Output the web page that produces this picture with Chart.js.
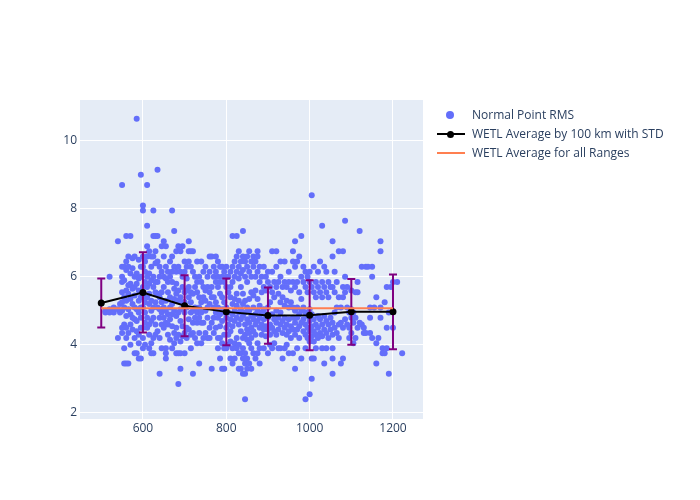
<!DOCTYPE html>
<html>
<head>
<meta charset="utf-8">
<script src="https://cdn.jsdelivr.net/npm/chart.js@4/dist/chart.umd.min.js"></script>
<style>
  html, body { margin:0; padding:0; background:#fff; }
  #wrap { position:relative; width:700px; height:500px; font-family:"Open Sans", Verdana, Arial, sans-serif; }
  canvas { position:absolute; left:0; top:0; }
  .lg { position:absolute; left:472px; font-size:12px; color:#2a3f5f; line-height:14px; white-space:nowrap; }
  .sym { position:absolute; }
</style>
</head>
<body>
<div id="wrap">
  <canvas id="c" width="700" height="500"></canvas>
  <div class="sym" style="left:446px;top:111px;width:8px;height:8px;border-radius:50%;background:#636efa;"></div>
  <div class="lg" style="top:108px;">Normal Point RMS</div>
  <div class="sym" style="left:437px;top:133px;width:28px;height:2px;background:#000;"></div>
  <div class="sym" style="left:447px;top:130.5px;width:7px;height:7px;border-radius:50%;background:#000;"></div>
  <div class="lg" style="top:127px;">WETL Average by 100 km with STD</div>
  <div class="sym" style="left:437px;top:152px;width:28px;height:2px;background:#ff7f50;"></div>
  <div class="lg" style="top:146px;">WETL Average for all Ranges</div>
</div>
<script>
// ---- data ----
const scatterRangeKm = [510,520,530,540,545,550,555,560,565,570,575,580,585,590,595,600,605,610,615,620,625,630,635,640,645,650,655,660,665,670,675,680,685,690,695,700,705,710,715,720,725,730,735,740,745,750,755,760,765,770,775,780,785,790,795,800,805,810,815,820,825,830,835,840,845,850,855,860,865,870,875,880,885,890,895,900,905,910,915,920,925,930,935,940,945,950,955,960,965,970,975,980,985,990,995,1000,1005,1010,1015,1020,1025,1030,1035,1040,1045,1050,1055,1060,1065,1070,1075,1080,1085,1090,1095,1100,1105,1110,1115,1120,1125,1130,1135,1140,1145,1150,1155,1160,1165,1170,1175,1180,1185,1190,1195,1200,1210,1222];
const scatterRmsMm = [
 [5.0,4.95],
 [6.0,5.05,4.95],
 [4.95,5.1],
 [4.2,7.05,5.05],
 [5.2,4.95],
 [6.3,6.0,5.85,5.55,5.25,5.0,4.5,4.35,8.7],
 [6.3,5.9,5.4,5.1,4.6,3.45,3.9],
 [7.2,6.45,6.2,5.6,5.3,4.85,4.5,4.2,3.45],
 [6.3,5.75,5.5,5.05,4.35,3.45,6.6],
 [7.2,6.1,5.8,5.35,4.9,4.6,4.0],
 [6.55,6.25,5.65,5.2,4.8,4.45],
 [6.6,6.0,5.7,5.45,5.1,4.75,4.2,3.75],
 [10.65,6.1,5.8,5.05,4.7,4.4,3.75],
 [6.5,5.95,5.6,5.3,4.95,4.3,4.05,3.6],
 [9.0,6.3,6.0,5.4,5.1,4.8,4.5,3.6],
 [8.1,7.95,6.6,6.3,5.7,5.4,5.1,4.5,4.2,3.9],
 [6.45,6.15,5.85,5.25,4.95,4.65,4.0],
 [8.7,7.5,6.9,6.6,6.0,5.7,5.4,4.8,4.5],
 [6.75,6.1,5.8,5.5,5.2,4.6,4.3,3.9],
 [6.6,6.3,5.9,5.3,5.0,4.7,4.05,3.75],
 [7.95,7.2,6.6,6.0,5.7,5.1,4.8,4.2,3.75],
 [7.2,6.75,6.4,5.85,5.55,5.25,4.6,4.3],
 [9.15,7.2,6.45,5.85,5.5,5.1,4.4],
 [6.3,6.0,5.4,5.05,4.8,4.2,3.15],
 [6.9,6.15,5.55,5.25,4.95,4.6,3.9],
 [7.05,6.6,6.0,5.7,5.1,4.8,4.5],
 [6.9,6.3,5.95,5.3,5.0,4.65,3.9,3.75,3.6],
 [6.15,5.85,5.55,4.9,4.6,4.3],
 [6.45,6.0,5.4,5.1,4.75,4.15],
 [7.95,6.6,6.15,5.85,5.2,4.9,4.55,3.9],
 [7.35,6.3,5.65,5.35,5.0,4.35,4.05],
 [6.75,6.15,5.8,5.5,4.85,4.5,4.2,3.75],
 [6.9,6.3,5.6,5.3,4.95,4.3,2.85,3.75],
 [6.75,6.15,5.4,5.05,4.7,4.1,3.3,3.75],
 [6.9,6.0,5.7,5.25,4.55,4.25],
 [6.45,6.15,5.55,5.25,4.95,4.35,3.75],
 [6.3,5.95,5.6,5.1,4.5,4.2],
 [7.05,6.75,6.45,5.7,5.4,4.75,4.45],
 [6.75,6.3,5.55,5.25,4.95,4.3,3.9],
 [6.75,6.15,5.5,5.0,4.65,3.15,4.35],
 [6.0,5.7,5.1,4.8,4.2],
 [6.45,5.85,5.55,4.95,4.65,4.05],
 [6.0,5.4,5.1,4.8,4.35,3.45],
 [6.45,5.85,5.25,4.95,4.65,4.05],
 [6.15,5.7,5.4,4.65,4.2],
 [6.3,5.6,5.3,5.0,4.35],
 [6.0,5.7,5.1,4.8,4.2],
 [6.6,6.15,5.55,5.2,4.5,4.2],
 [6.6,5.7,5.4,4.65,3.3],
 [6.3,6.0,5.4,5.1,4.8,4.35],
 [6.6,6.15,5.85,5.25,4.95,4.5],
 [6.45,6.0,5.7,5.1,4.8,4.2,3.9],
 [6.3,5.85,5.5,4.9,4.55,4.2,3.6],
 [6.3,6.0,5.4,5.05,4.7,4.05,3.3],
 [6.15,5.85,5.25,4.95,4.3,3.9,3.3],
 [6.3,6.0,5.7,5.1,4.8,4.5,3.9],
 [6.0,5.55,4.95,4.6,4.3,4.0],
 [6.15,5.7,5.4,4.75,4.4,4.1,3.6],
 [7.2,6.3,5.85,5.2,4.9,4.55,3.9,3.45],
 [6.45,6.0,5.35,5.0,4.7,4.05,3.6],
 [7.2,6.6,6.15,5.5,5.15,4.8,4.2,3.9],
 [6.75,6.3,5.95,5.3,4.95,4.6,4.0,3.75,3.3],
 [6.45,6.1,5.7,5.05,4.75,4.4,3.75,3.3],
 [7.35,6.6,6.2,5.5,5.2,4.85,4.2,3.9,3.6,3.15],
 [6.45,6.0,5.3,4.95,4.6,4.3,3.75,3.45,2.4,3.15],
 [6.6,6.3,5.85,5.1,4.75,4.45,4.15,3.6,3.3],
 [6.75,6.15,5.35,5.0,4.65,4.35,4.05,3.45],
 [6.45,6.0,5.55,4.85,4.5,4.2,3.9,3.3],
 [6.6,6.3,5.45,5.1,4.75,4.4,3.75],
 [6.45,6.0,5.6,4.9,4.6,4.3,3.6],
 [6.75,6.6,6.15,5.35,5.0,4.7,4.05,3.75],
 [6.3,5.85,5.15,4.8,4.5,3.9,3.45],
 [6.0,5.55,4.95,4.6,4.3],
 [6.3,5.7,5.05,4.75,4.45,3.9],
 [6.0,5.6,4.9,4.55,4.25],
 [6.15,5.85,5.1,4.8,4.45,3.75],
 [5.7,5.25,4.6,4.3,4.0],
 [6.75,6.15,5.55,4.9,4.5,3.9],
 [5.85,5.4,4.75,4.4,4.05],
 [6.75,6.3,5.7,5.0,4.65,4.3],
 [5.85,5.5,4.8,4.45,3.9],
 [6.45,6.0,5.25,4.95,4.6,3.9],
 [5.7,5.4,4.7,4.35,3.6],
 [6.45,5.85,5.15,4.8,4.5,3.9],
 [5.7,5.3,4.6,4.3,4.0],
 [6.15,5.85,5.1,4.75,4.4,3.75],
 [5.6,5.25,4.55,4.2],
 [6.75,6.45,5.85,5.1,4.8,4.45,3.75],
 [7.05,6.3,5.7,5.0,4.65,4.3,3.3],
 [6.45,5.85,5.1,4.8,4.45,3.9],
 [6.6,5.55,4.9,4.55,4.2],
 [7.2,6.0,5.35,5.0,4.65,3.6],
 [6.3,5.85,5.1,4.75,4.4],
 [6.15,5.7,4.95,4.6,4.3,3.9,2.4],
 [6.0,5.55,4.85,4.5,4.2],
 [6.15,5.85,5.05,4.7,4.4,4.1,2.55],
 [8.4,5.7,4.9,4.55,4.25,3.0,3.6],
 [6.3,5.55,4.75,4.4,4.1,3.6],
 [5.85,5.4,4.6,4.3,3.9],
 [6.15,5.7,4.85,4.5,4.2],
 [6.45,5.55,4.75,4.35],
 [7.5,5.85,5.4,4.6,4.25,3.9],
 [6.3,5.7,4.85,4.45,3.45],
 [6.15,5.55,4.7,4.35,3.9],
 [5.85,5.4,4.6,4.2],
 [5.7,4.8,4.45],
 [7.05,6.6,5.7,4.65,4.3,3.9,3.15,3.6],
 [6.15,5.55,4.95,4.5],
 [5.85,5.1,4.35],
 [6.75,5.4,4.6,4.2],
 [5.1,4.65,3.45],
 [6.75,5.7,5.4,4.5,3.6],
 [7.65,6.0,5.55,4.75],
 [5.7,5.1,4.6],
 [4.95,4.5,4.2],
 [4.8,4.35,5.05,5.6],
 [4.95,4.65,4.05],
 [5.55,4.8,4.2],
 [5.85,5.55,4.5],
 [7.35,4.65],
 [6.3,4.6],
 [4.35,4.5],
 [6.3,4.35],
 [6.3],
 [5.1,4.8,4.35],
 [6.3,6.0,4.2],
 [5.1],
 [5.4,4.05,3.45],
 [4.2],
 [7.05,6.75,4.8,5.1],
 [3.9,3.75],
 [5.25,3.75],
 [5.7,4.5,3.9],
 [3.15,4.95],
 [5.7],
 [5.85,4.5],
 [5.85],
 [3.75]
];
const avgRangeKm = [500,600,700,800,900,1000,1100,1200];
const avgRmsMm   = [5.23,5.54,5.15,4.97,4.86,4.87,4.97,4.97];
const avgStdMm   = [0.72,1.18,0.90,0.98,0.83,1.03,0.97,1.10];
const overallRangeKm = [500,1200];
const overallRmsMm   = [5.08,5.08];
const xTickValues = [600,800,1000,1200];
const yTickValues = [2,4,6,8,10];

// ---- build ----
const scatterPts = scatterRangeKm.flatMap((km,i)=>scatterRmsMm[i].map(v=>({x:km,y:v})));
const avgPts = avgRangeKm.map((km,i)=>({x:km,y:avgRmsMm[i]}));
const overallPts = overallRangeKm.map((km,i)=>({x:km,y:overallRmsMm[i]}));

const bgPlugin = {
  id:'bg',
  beforeDraw(chart){
    const {ctx, chartArea:a} = chart;
    ctx.save();
    ctx.fillStyle = '#E5ECF6';
    ctx.fillRect(a.left, a.top, a.right-a.left, a.bottom-a.top);
    ctx.restore();
  }
};
const errPlugin = {
  id:'err',
  afterDatasetDraw(chart, args){
    if (args.index !== 0) return;
    const ctx = chart.ctx, xs = chart.scales.x, ys = chart.scales.y;
    ctx.save();
    ctx.strokeStyle = '#800080';
    ctx.lineWidth = 2;
    avgRangeKm.forEach((km,i)=>{
      const px = xs.getPixelForValue(km);
      const top = ys.getPixelForValue(avgRmsMm[i]+avgStdMm[i]);
      const bot = ys.getPixelForValue(avgRmsMm[i]-avgStdMm[i]);
      ctx.beginPath();
      ctx.moveTo(px, top); ctx.lineTo(px, bot);
      ctx.moveTo(px-4, top); ctx.lineTo(px+4, top);
      ctx.moveTo(px-4, bot); ctx.lineTo(px+4, bot);
      ctx.stroke();
    });
    ctx.restore();
  }
};

const tickFont = { family:'"Open Sans", Verdana, Arial, sans-serif', size:12 };
new Chart(document.getElementById('c'), {
  data: {
    datasets: [
      { type:'scatter', label:'Normal Point RMS', data:scatterPts, backgroundColor:'#636efa', borderWidth:0, pointRadius:3, order:3 },
      { type:'line', label:'WETL Average by 100 km with STD', data:avgPts, borderColor:'#000', backgroundColor:'#000', borderWidth:2, pointRadius:3.5, pointBorderWidth:0, tension:0, order:2 },
      { type:'line', label:'WETL Average for all Ranges', data:overallPts, borderColor:'#ff7f50', borderWidth:2, pointRadius:0, tension:0, order:1 }
    ]
  },
  options: {
    responsive:false,
    animation:false,
    layout:{ padding:{ left:0, right:277, top:100, bottom:0 } },
    plugins:{ legend:{display:false}, tooltip:{enabled:false} },
    scales:{
      x:{
        type:'linear', min:449, max:1272,
        afterBuildTicks: ax => { ax.ticks = xTickValues.map(v=>({value:v})); },
        afterFit: sc => { sc.height = 81; },
        grid:{ color:'#ffffff', lineWidth:1, drawTicks:false },
        border:{ display:false },
        ticks:{ color:'#2a3f5f', font:tickFont, padding:2, maxRotation:0, callback: v => String(v) }
      },
      y:{
        type:'linear', min:1.82, max:11.2,
        afterBuildTicks: ax => { ax.ticks = yTickValues.map(v=>({value:v})); },
        afterFit: sc => { sc.width = 80; },
        grid:{ color:'#ffffff', lineWidth:1, drawTicks:false },
        border:{ display:false },
        ticks:{ color:'#2a3f5f', font:tickFont, padding:3, callback: v => String(v) }
      }
    }
  },
  plugins:[bgPlugin, errPlugin]
});
</script>
</body>
</html>
